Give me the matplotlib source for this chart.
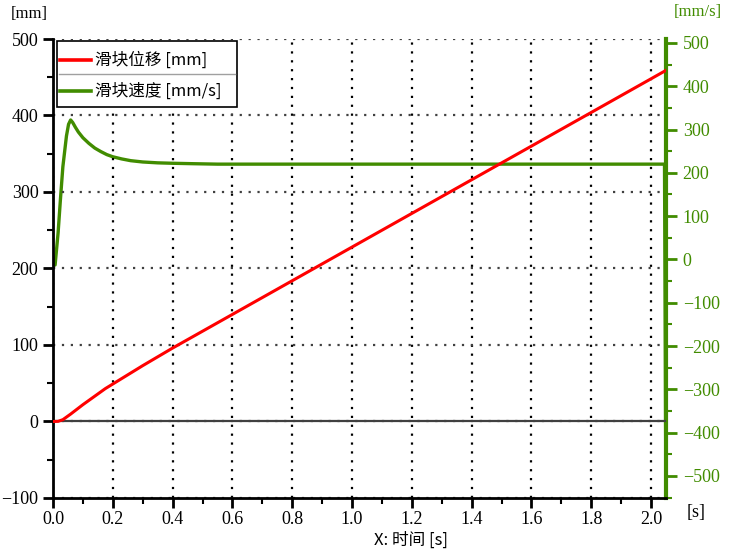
import numpy as np
import matplotlib.pyplot as plt
from matplotlib.ticker import MultipleLocator, FormatStrFormatter
from matplotlib.lines import Line2D
from matplotlib.patches import Rectangle

# 滑块位移 [mm]
t_disp = [0.0, 0.017, 0.033, 0.059, 0.08, 0.10, 0.125, 0.15, 0.175, 0.20, 0.25,
          0.30, 0.40, 0.60, 0.80, 1.00, 1.20, 1.40, 1.60, 1.80, 2.05]
disp = [0, 0.2, 2.4, 9.7, 16, 22, 29, 36, 43, 49, 61, 73, 96, 140, 184, 228,
        272, 316, 360, 404, 459]

# 滑块速度 [mm/s]
t_vel = [0.0, 0.007, 0.017, 0.025, 0.033, 0.045, 0.052, 0.059, 0.066, 0.075,
         0.085, 0.10, 0.12, 0.14, 0.16, 0.18, 0.20, 0.23, 0.26, 0.30, 0.35,
         0.40, 0.47, 0.55, 2.045, 2.05]
vel = [-13, -13, 61, 140, 214, 285, 312, 322, 316, 305, 294, 281, 268, 257,
       249, 242, 237, 232, 228, 225, 223, 222, 221, 220, 220, -600]

xticks = [0.0, 0.2, 0.4, 0.6, 0.8, 1.0, 1.2, 1.4, 1.6, 1.8, 2.0]
legend_labels = ['滑块位移 [mm]', '滑块速度 [mm/s]']
green = '#418c00'
serif = ['Liberation Serif', 'Noto Sans CJK SC']
cjk = ['Noto Sans CJK SC', 'DejaVu Sans']

plt.rcParams['font.family'] = serif

W, H = 731, 553


def px(x, y):
    # 像素坐标 -> 图形坐标
    return x / W, 1 - y / H


fig = plt.figure(figsize=(W / 100, H / 100), dpi=100)
ax = fig.add_axes([53 / W, 1 - 498 / H, 613 / W, 459 / H])
ax2 = ax.twinx()
ax.set_zorder(ax2.get_zorder() + 1)
ax.patch.set_visible(False)

# 速度曲线 (右轴)
ax2.plot(t_vel, vel, color=green, lw=2.4)
ax2.set_ylim(-551, 509)
ax2.yaxis.set_major_locator(MultipleLocator(100))
ax2.yaxis.set_minor_locator(MultipleLocator(50))
ax2.tick_params(axis='y', which='major', colors=green, length=8, width=2,
                labelsize=13, pad=4)
ax2.tick_params(axis='y', which='minor', colors=green, length=4, width=1.5)
for s in ['left', 'top', 'bottom']:
    ax2.spines[s].set_visible(False)
ax2.spines['right'].set_color(green)
ax2.spines['right'].set_linewidth(3)

# 位移曲线 (左轴)
ax.axhline(0, color='#404040', lw=1.6, zorder=1)
ax.plot(t_disp, disp, color='red', lw=2.2, zorder=3)
ax.set_xlim(0, 2.05)
ax.set_ylim(-100, 500)
ax.set_xticks(xticks)
ax.xaxis.set_major_formatter(FormatStrFormatter('%.1f'))
ax.xaxis.set_minor_locator(MultipleLocator(0.1))
ax.yaxis.set_major_locator(MultipleLocator(100))
ax.yaxis.set_minor_locator(MultipleLocator(50))
ax.tick_params(which='major', length=7, width=2, labelsize=13, colors='black')
ax.tick_params(axis='x', which='major', pad=2)
ax.tick_params(which='minor', length=4, width=1.5)
ax.grid(axis='x', which='major', color='black', ls=(0, (1, 3)), lw=1.6)
ax.grid(axis='y', which='major', color='#404040', ls=(0, (1, 3)), lw=1.6)
for s in ['right', 'top']:
    ax.spines[s].set_visible(False)
ax.spines['left'].set_linewidth(2)
ax.spines['bottom'].set_linewidth(2)

# 图例 (手动绘制, 带分隔线)
x0, y0 = px(57, 107)
x1, y1 = px(237, 41)
fig.add_artist(Rectangle((x0, y0), x1 - x0, y1 - y0, facecolor='white',
                         edgecolor='black', lw=1.2, zorder=10))
fig.add_artist(Line2D([px(59, 0)[0], px(235, 0)[0]], [px(0, 74)[1]] * 2,
                      color='#a0a0a0', lw=1, zorder=11))
for lab, col, yy in zip(legend_labels, ['red', green], [60, 91]):
    fig.add_artist(Line2D([px(60, 0)[0], px(91, 0)[0]], [px(0, yy)[1]] * 2,
                          color=col, lw=2.6, zorder=11))
    fig.text(*px(95, yy), lab, fontsize=12, va='center', ha='left',
             family=cjk, zorder=12)

# 单位标注
fig.text(*px(11, 14), '[mm]', fontsize=12, va='center', ha='left')
fig.text(*px(674, 12), '[mm/s]', fontsize=12, va='center', ha='left',
         color=green)
fig.text(*px(687, 513), '[s]', fontsize=13, va='center', ha='left')
fig.text(*px(411, 540), 'X: 时间 [s]', fontsize=12, va='center',
         ha='center', family=cjk)

fig.savefig('out.png', dpi=100)
